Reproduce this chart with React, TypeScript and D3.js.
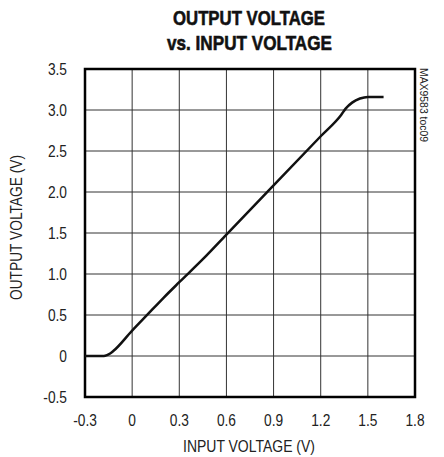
import React from "react";
import * as d3 from "d3";

const inputV = [-0.3, -0.18, -0.16, -0.14, -0.12, 0, 0.1, 0.2, 0.3, 0.45, 0.6, 0.9, 1.2, 1.33, 1.36, 1.4, 1.45, 1.5, 1.6];
const outputV = [0, 0, 0.01, 0.03, 0.06, 0.31, 0.51, 0.71, 0.9, 1.18, 1.48, 2.08, 2.68, 2.94, 3.02, 3.09, 3.14, 3.16, 3.16];
const xTicks = [-0.3, 0, 0.3, 0.6, 0.9, 1.2, 1.5, 1.8];
const yTicks = [-0.5, 0, 0.5, 1.0, 1.5, 2.0, 2.5, 3.0, 3.5];
const xTickLabels = ["-0.3", "0", "0.3", "0.6", "0.9", "1.2", "1.5", "1.8"];
const yTickLabels = ["-0.5", "0", "0.5", "1.0", "1.5", "2.0", "2.5", "3.0", "3.5"];

const font = "'Liberation Sans', Arial, sans-serif";
const SX = 0.86;

export default function App() {
  const left = 85, right = 415, top = 69, bottom = 397;
  const x = d3.scaleLinear().domain([-0.3, 1.8]).range([left, right]);
  const y = d3.scaleLinear().domain([-0.5, 3.5]).range([bottom, top]);
  const pts = inputV.map((v, i) => [v, outputV[i]] as [number, number]);
  const line = d3.line<[number, number]>().x(d => x(d[0])).y(d => y(d[1])).curve(d3.curveMonotoneX);

  return (
    <svg width={444} height={457} style={{ position: "absolute", left: 0, top: 0, background: "#fff" }}>
      <rect width={444} height={457} fill="#fff" />
      <text x={249} y={25} textAnchor="middle" fontFamily={font} fontWeight="bold" fontSize={21} fill="#111" stroke="#111" strokeWidth={0.6} textLength={152} lengthAdjust="spacingAndGlyphs">OUTPUT VOLTAGE</text>
      <text x={249.5} y={50} textAnchor="middle" fontFamily={font} fontWeight="bold" fontSize={21} fill="#111" stroke="#111" strokeWidth={0.6} textLength={165} lengthAdjust="spacingAndGlyphs">vs. INPUT VOLTAGE</text>
      {xTicks.map(t => (
        <line key={"gx" + t} x1={x(t)} x2={x(t)} y1={top} y2={bottom} stroke="#333" strokeWidth={1} />
      ))}
      {yTicks.map(t => (
        <line key={"gy" + t} x1={left} x2={right} y1={y(t)} y2={y(t)} stroke="#333" strokeWidth={1} />
      ))}
      <rect x={left} y={top} width={right - left} height={bottom - top} fill="none" stroke="#000" strokeWidth={2.5} />
      <path d={line(pts) || ""} fill="none" stroke="#111" strokeWidth={2.5} strokeLinejoin="round" />
      {yTicks.map((t, i) => (
        <g key={"ly" + t} transform={`translate(67,${y(t) + 6}) scale(${SX},1)`}>
          <text x={0} y={0} textAnchor="end" fontFamily={font} fontSize={16} fill="#222">{yTickLabels[i]}</text>
        </g>
      ))}
      {xTicks.map((t, i) => (
        <g key={"lx" + t} transform={`translate(${x(t)},426) scale(${SX},1)`}>
          <text x={0} y={0} textAnchor="middle" fontFamily={font} fontSize={16} fill="#222">{xTickLabels[i]}</text>
        </g>
      ))}
      <text x={249} y={452} textAnchor="middle" fontFamily={font} fontSize={16} fill="#222" textLength={132} lengthAdjust="spacingAndGlyphs">INPUT VOLTAGE (V)</text>
      <text transform="translate(22,227.5) rotate(-90)" textAnchor="middle" fontFamily={font} fontSize={16} fill="#222" textLength={145} lengthAdjust="spacingAndGlyphs">OUTPUT VOLTAGE (V)</text>
      <text transform="translate(420,68) rotate(90)" textAnchor="start" fontFamily={font} fontSize={11} fill="#222" textLength={74} lengthAdjust="spacingAndGlyphs">MAX9583 toc09</text>
    </svg>
  );
}
